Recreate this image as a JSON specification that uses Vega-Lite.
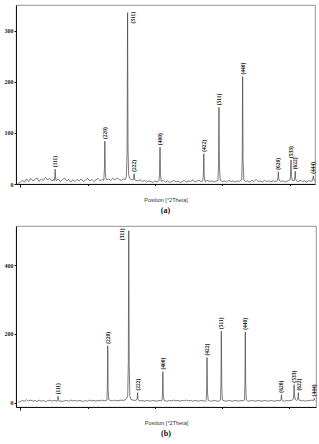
{
 "$schema": "https://vega.github.io/schema/vega-lite/v6.json",
 "padding": {"left": 3, "top": 4, "right": 1, "bottom": 2},
 "spacing": 10,
 "config": {
  "view": {"stroke": "#777", "strokeWidth": 0.8},
  "axis": {"domainColor": "#111", "tickColor": "#111", "labelFont": "Liberation Serif", "labelFontWeight": "bold", "labelFontSize": 6, "labelColor": "#222", "tickSize": 2, "labelPadding": 1, "grid": false, "titleFont": "Liberation Sans", "titleFontSize": 5.5, "titleFontWeight": "normal", "titleColor": "#333"},
  "title": {"font": "Liberation Serif", "fontSize": 8, "fontWeight": "bold", "color": "#111", "orient": "bottom", "anchor": "middle", "offset": 4}
 },
 "datasets": {
  "a": [
   {"x":9.5,"y":1},{"x":10,"y":3},{"x":10.5,"y":7},{"x":11,"y":4},{"x":11.5,"y":10},{"x":12,"y":5},{"x":12.5,"y":11},{"x":13,"y":6},{"x":13.5,"y":9},{"x":14,"y":12},{"x":14.5,"y":5},{"x":15,"y":10},{"x":15.5,"y":7},{"x":16,"y":13},{"x":16.5,"y":8},{"x":17,"y":11},{"x":17.5,"y":6},{"x":18,"y":9},
   {"x":18.1,"y":7},{"x":18.22,"y":14},{"x":18.3,"y":29},{"x":18.4,"y":12},{"x":18.55,"y":6},
   {"x":19,"y":10},{"x":19.5,"y":5},{"x":20,"y":8},{"x":20.5,"y":12},{"x":21,"y":6},{"x":21.5,"y":9},{"x":22,"y":4},{"x":22.5,"y":8},{"x":23,"y":5},{"x":23.5,"y":9},{"x":24,"y":6},{"x":24.5,"y":10},{"x":25,"y":5},{"x":25.5,"y":8},{"x":26,"y":11},{"x":26.5,"y":6},{"x":27,"y":9},{"x":27.5,"y":5},{"x":28,"y":8},{"x":28.5,"y":11},{"x":29,"y":6},{"x":29.5,"y":9},
   {"x":29.85,"y":7},{"x":30.0,"y":30},{"x":30.1,"y":84},{"x":30.2,"y":25},{"x":30.4,"y":9},
   {"x":30.6,"y":8},{"x":31,"y":10},{"x":31.5,"y":7},{"x":32,"y":11},{"x":32.5,"y":8},{"x":33,"y":12},{"x":33.5,"y":9},{"x":34,"y":7},{"x":34.5,"y":10},{"x":35,"y":9},
   {"x":35.2,"y":14},{"x":35.38,"y":60},{"x":35.5,"y":335},{"x":35.6,"y":70},{"x":35.75,"y":18},
   {"x":36,"y":11},{"x":36.5,"y":8},
   {"x":36.9,"y":9},{"x":37.05,"y":20},{"x":37.2,"y":8},
   {"x":37.5,"y":7},{"x":38,"y":6},{"x":38.5,"y":8},{"x":39,"y":5},{"x":39.5,"y":7},{"x":40,"y":4},{"x":40.5,"y":6},{"x":41,"y":5},{"x":41.5,"y":3},{"x":42,"y":6},{"x":42.5,"y":4},
   {"x":42.95,"y":6},{"x":43.1,"y":25},{"x":43.2,"y":72},{"x":43.3,"y":18},{"x":43.5,"y":5},
   {"x":44,"y":7},{"x":44.5,"y":4},{"x":45,"y":6},{"x":45.5,"y":3},{"x":46,"y":5},{"x":46.5,"y":7},{"x":47,"y":4},{"x":47.5,"y":6},{"x":48,"y":3},{"x":48.5,"y":5},{"x":49,"y":7},{"x":49.5,"y":4},{"x":50,"y":6},{"x":50.5,"y":5},{"x":51,"y":8},{"x":51.5,"y":4},{"x":52,"y":6},{"x":52.5,"y":7},{"x":53,"y":5},
   {"x":53.35,"y":6},{"x":53.5,"y":20},{"x":53.6,"y":59},{"x":53.7,"y":15},{"x":53.9,"y":5},
   {"x":54.5,"y":7},{"x":55,"y":5},{"x":55.5,"y":6},{"x":56,"y":4},{"x":56.5,"y":6},
   {"x":56.95,"y":6},{"x":57.1,"y":40},{"x":57.2,"y":150},{"x":57.3,"y":35},{"x":57.5,"y":7},
   {"x":58,"y":5},{"x":58.5,"y":6},{"x":59,"y":4},{"x":59.5,"y":7},{"x":60,"y":5},{"x":60.5,"y":6},{"x":61,"y":4},{"x":61.5,"y":6},{"x":62,"y":5},
   {"x":62.6,"y":8},{"x":62.72,"y":55},{"x":62.82,"y":210},{"x":62.92,"y":45},{"x":63.1,"y":8},
   {"x":63.5,"y":5},{"x":64,"y":6},{"x":64.5,"y":4},{"x":65,"y":7},{"x":65.5,"y":5},{"x":66,"y":9},{"x":66.5,"y":5},{"x":67,"y":6},{"x":67.5,"y":4},{"x":68,"y":7},{"x":68.5,"y":5},{"x":69,"y":6},{"x":69.5,"y":4},{"x":70,"y":6},{"x":70.5,"y":5},{"x":71,"y":6},
   {"x":71.2,"y":12},{"x":71.3,"y":24},{"x":71.4,"y":10},
   {"x":71.6,"y":6},{"x":72,"y":5},{"x":72.5,"y":6},{"x":73,"y":4},{"x":73.5,"y":6},
   {"x":74.1,"y":8},{"x":74.2,"y":20},{"x":74.3,"y":47},{"x":74.4,"y":15},{"x":74.6,"y":7},
   {"x":75,"y":6},{"x":75.2,"y":12},{"x":75.3,"y":25},{"x":75.4,"y":10},{"x":75.6,"y":6},
   {"x":76,"y":5},{"x":76.5,"y":7},{"x":77,"y":5},{"x":77.5,"y":6},{"x":78,"y":4},{"x":78.5,"y":7},{"x":79,"y":5},{"x":79.3,"y":6},
   {"x":79.5,"y":10},{"x":79.6,"y":16},{"x":79.7,"y":9},{"x":80,"y":5}
  ],
  "la": [
   {"x":18.3,"y":29,"t":"(111)"},{"x":30.1,"y":84,"t":"(220)"},{"x":36.9,"y":310,"t":"(311)"},{"x":37.1,"y":20,"t":"(222)"},{"x":43.2,"y":72,"t":"(400)"},{"x":53.6,"y":59,"t":"(422)"},{"x":57.2,"y":150,"t":"(511)"},{"x":62.8,"y":210,"t":"(440)"},{"x":71.3,"y":24,"t":"(620)"},{"x":74.3,"y":47,"t":"(533)"},{"x":75.3,"y":25,"t":"(622)"},{"x":79.6,"y":16,"t":"(444)"}
  ],
  "b": [
   {"x":9.5,"y":0},{"x":10,"y":3},{"x":10.5,"y":6},{"x":11,"y":4},{"x":11.5,"y":8},{"x":12,"y":5},{"x":12.5,"y":7},{"x":13,"y":4},{"x":13.5,"y":6},{"x":14,"y":3},{"x":14.5,"y":7},{"x":15,"y":4},{"x":15.5,"y":6},{"x":16,"y":3},{"x":16.5,"y":5},{"x":17,"y":7},{"x":17.5,"y":4},{"x":18,"y":6},{"x":18.5,"y":5},
   {"x":18.8,"y":4},{"x":18.92,"y":9},{"x":19.0,"y":18},{"x":19.1,"y":8},{"x":19.3,"y":4},
   {"x":19.5,"y":5},{"x":20,"y":3},{"x":20.5,"y":5},{"x":21,"y":6},{"x":21.5,"y":4},{"x":22,"y":7},{"x":22.5,"y":5},{"x":23,"y":6},{"x":23.5,"y":4},{"x":24,"y":6},{"x":24.5,"y":5},{"x":25,"y":3},{"x":25.5,"y":6},{"x":26,"y":4},{"x":26.5,"y":7},{"x":27,"y":5},{"x":27.5,"y":6},{"x":28,"y":4},{"x":28.5,"y":6},{"x":29,"y":5},{"x":29.5,"y":7},{"x":30,"y":5},{"x":30.4,"y":6},
   {"x":30.6,"y":7},{"x":30.72,"y":50},{"x":30.8,"y":165},{"x":30.9,"y":40},{"x":31.05,"y":8},
   {"x":31.5,"y":6},{"x":32,"y":5},{"x":32.5,"y":7},{"x":33,"y":5},{"x":33.5,"y":6},{"x":34,"y":7},{"x":34.5,"y":6},{"x":35,"y":8},{"x":35.3,"y":12},
   {"x":35.55,"y":20},{"x":35.7,"y":120},{"x":35.8,"y":500},{"x":35.9,"y":110},{"x":36.05,"y":20},{"x":36.3,"y":9},
   {"x":36.8,"y":7},{"x":37.3,"y":6},{"x":37.6,"y":7},
   {"x":37.8,"y":12},{"x":37.9,"y":29},{"x":38.0,"y":10},{"x":38.2,"y":6},
   {"x":38.5,"y":5},{"x":39,"y":6},{"x":39.5,"y":4},{"x":40,"y":6},{"x":40.5,"y":5},{"x":41,"y":4},{"x":41.5,"y":6},{"x":42,"y":5},{"x":42.5,"y":4},{"x":43,"y":6},{"x":43.5,"y":5},
   {"x":43.7,"y":6},{"x":43.82,"y":28},{"x":43.9,"y":90},{"x":44.0,"y":22},{"x":44.2,"y":6},
   {"x":44.5,"y":5},{"x":45,"y":4},{"x":45.5,"y":6},{"x":46,"y":5},{"x":46.5,"y":7},{"x":47,"y":5},{"x":47.5,"y":6},{"x":48,"y":4},{"x":48.5,"y":6},{"x":49,"y":5},{"x":49.5,"y":7},{"x":50,"y":5},{"x":50.5,"y":6},{"x":51,"y":4},{"x":51.5,"y":6},{"x":52,"y":5},{"x":52.5,"y":4},{"x":53,"y":6},{"x":53.5,"y":5},{"x":54,"y":4},
   {"x":54.2,"y":6},{"x":54.32,"y":40},{"x":54.4,"y":131},{"x":54.5,"y":30},{"x":54.7,"y":6},
   {"x":55,"y":5},{"x":55.5,"y":4},{"x":56,"y":6},{"x":56.5,"y":5},{"x":57,"y":4},{"x":57.4,"y":5},
   {"x":57.6,"y":7},{"x":57.72,"y":60},{"x":57.8,"y":208},{"x":57.9,"y":50},{"x":58.05,"y":7},
   {"x":58.5,"y":5},{"x":59,"y":4},{"x":59.5,"y":6},{"x":60,"y":5},{"x":60.5,"y":4},{"x":61,"y":6},{"x":61.5,"y":5},{"x":62,"y":4},{"x":62.5,"y":6},{"x":63,"y":5},
   {"x":63.3,"y":7},{"x":63.42,"y":60},{"x":63.5,"y":206},{"x":63.6,"y":50},{"x":63.75,"y":7},
   {"x":64,"y":5},{"x":64.5,"y":4},{"x":65,"y":6},{"x":65.5,"y":5},{"x":66,"y":4},{"x":66.5,"y":6},{"x":67,"y":5},{"x":67.5,"y":4},{"x":68,"y":6},{"x":68.5,"y":5},{"x":69,"y":4},{"x":69.5,"y":6},{"x":70,"y":5},{"x":70.5,"y":4},{"x":71,"y":6},{"x":71.5,"y":5},{"x":71.9,"y":6},
   {"x":72.0,"y":10},{"x":72.1,"y":23},{"x":72.2,"y":8},{"x":72.4,"y":5},
   {"x":72.8,"y":4},{"x":73.3,"y":6},{"x":73.8,"y":5},{"x":74.3,"y":6},{"x":74.7,"y":7},
   {"x":74.95,"y":12},{"x":75.05,"y":30},{"x":75.1,"y":52},{"x":75.2,"y":20},{"x":75.4,"y":8},
   {"x":75.7,"y":6},{"x":75.95,"y":8},{"x":76.05,"y":18},{"x":76.1,"y":29},{"x":76.2,"y":10},{"x":76.4,"y":6},
   {"x":76.8,"y":5},{"x":77.3,"y":6},{"x":77.8,"y":4},{"x":78.3,"y":6},{"x":78.8,"y":5},{"x":79.3,"y":7},{"x":79.7,"y":6},
   {"x":79.8,"y":9},{"x":79.9,"y":12},{"x":80.0,"y":8},{"x":80.2,"y":6}
  ],
  "lb": [
   {"x":19.0,"y":18,"t":"(111)"},{"x":30.8,"y":165,"t":"(220)"},{"x":34.3,"y":467,"t":"(311)"},{"x":37.9,"y":29,"t":"(222)"},{"x":43.9,"y":90,"t":"(400)"},{"x":54.4,"y":131,"t":"(422)"},{"x":57.8,"y":208,"t":"(511)"},{"x":63.5,"y":206,"t":"(440)"},{"x":72.1,"y":23,"t":"(620)"},{"x":75.0,"y":52,"t":"(533)"},{"x":76.2,"y":29,"t":"(622)"},{"x":79.8,"y":12,"t":"(444)"}
  ]
 },
 "vconcat": [
  {
   "title": {"text": "(a)"},
   "width": 299, "height": 179,
   "layer": [
    {
     "data": {"name": "a"},
     "mark": {"type": "line", "color": "#444", "strokeWidth": 0.7},
     "encoding": {
      "x": {"field": "x", "type": "quantitative", "scale": {"domain": [9, 80], "nice": false, "zero": false},
        "axis": {"values": [10,11,12,13,14,15,16,17,18,19,20,21,22,23,24,25,26,27,28,29,30,31,32,33,34,35,36,37,38,39,40,41,42,43,44,45,46,47,48,49,50,51,52,53,54,55,56,57,58,59,60,61,62,63,64,65,66,67,68,69,70,71,72,73,74,75,76,77,78,79,80],
         "labelExpr": "datum.value % 10 === 0 && datum.value < 80 && datum.value > 10 ? datum.label : ''",
         "tickSize": {"condition": {"test": "datum.value % 10 === 0", "value": 3}, "value": 1.5},
         "title": "Position [°2Theta]", "titlePadding": 3, "domainWidth": 1.2}},
      "y": {"field": "y", "type": "quantitative", "scale": {"domain": [0, 350], "nice": false},
        "axis": {"values": [0, 100, 200, 300], "title": null}}
     }
    },
    {
     "data": {"name": "la"},
     "mark": {"type": "text", "angle": 270, "align": "left", "baseline": "middle", "dx": 2, "font": "Liberation Serif", "fontSize": 5.5, "fontWeight": "bold", "color": "#111"},
     "encoding": {
      "x": {"field": "x", "type": "quantitative"},
      "y": {"field": "y", "type": "quantitative"},
      "text": {"field": "t"}
     }
    }
   ]
  },
  {
   "title": {"text": "(b)"},
   "width": 300, "height": 181,
   "layer": [
    {
     "data": {"name": "b"},
     "mark": {"type": "line", "color": "#444", "strokeWidth": 0.7},
     "encoding": {
      "x": {"field": "x", "type": "quantitative", "scale": {"domain": [9, 80.3], "nice": false, "zero": false},
        "axis": {"values": [10,11,12,13,14,15,16,17,18,19,20,21,22,23,24,25,26,27,28,29,30,31,32,33,34,35,36,37,38,39,40,41,42,43,44,45,46,47,48,49,50,51,52,53,54,55,56,57,58,59,60,61,62,63,64,65,66,67,68,69,70,71,72,73,74,75,76,77,78,79,80],
         "labelExpr": "datum.value % 10 === 0 && datum.value < 80 && datum.value > 10 ? datum.label : ''",
         "tickSize": {"condition": {"test": "datum.value % 10 === 0", "value": 3}, "value": 1.5},
         "title": "Position [°2Theta]", "titlePadding": 3, "domainWidth": 1.2}},
      "y": {"field": "y", "type": "quantitative", "scale": {"domain": [-13, 514], "nice": false, "zero": false},
        "axis": {"values": [0, 200, 400], "title": null}}
     }
    },
    {
     "data": {"name": "lb"},
     "mark": {"type": "text", "angle": 270, "align": "left", "baseline": "middle", "dx": 2, "font": "Liberation Serif", "fontSize": 5.5, "fontWeight": "bold", "color": "#111"},
     "encoding": {
      "x": {"field": "x", "type": "quantitative"},
      "y": {"field": "y", "type": "quantitative"},
      "text": {"field": "t"}
     }
    }
   ]
  }
 ]
}
